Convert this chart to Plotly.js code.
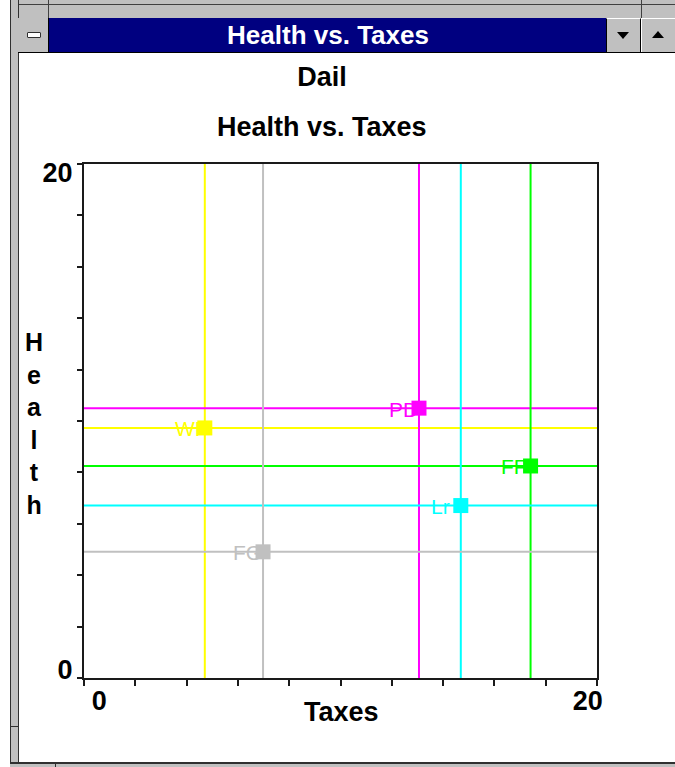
<!DOCTYPE html>
<html><head><meta charset="utf-8">
<script src="https://cdn.plot.ly/plotly-3.0.1.min.js"></script>
<style>
html,body{margin:0;padding:0;background:#fff;width:675px;height:767px;overflow:hidden;}
.abs{position:absolute;box-sizing:border-box;}
#plot{position:absolute;left:0;top:0;width:675px;height:767px;}
.tri-down{position:absolute;width:0;height:0;border-left:6px solid transparent;border-right:6px solid transparent;border-top:7px solid #000;}
.tri-up{position:absolute;width:0;height:0;border-left:6px solid transparent;border-right:6px solid transparent;border-bottom:7px solid #000;}
</style></head><body>
<!-- window chrome -->
<div class="abs" style="left:10px;top:0;width:665px;height:19px;background:#c0c0c0;border-bottom:1px solid #000;"></div>
<div class="abs" style="left:10px;top:4px;width:665px;height:1px;background:#404040;"></div>
<div class="abs" style="left:48px;top:0;width:1px;height:19px;background:#404040;"></div>
<div class="abs" style="left:641px;top:0;width:1px;height:19px;background:#404040;"></div>
<div class="abs" style="left:10px;top:0;width:9px;height:767px;background:#c0c0c0;border-left:1px solid #303030;border-right:1px solid #303030;"></div>
<div class="abs" style="left:10px;top:726px;width:9px;height:1px;background:#303030;"></div>
<div class="abs" style="left:18px;top:18px;width:31px;height:34px;background:#c0c0c0;border-right:1px solid #000;"></div>
<div class="abs" style="left:27px;top:32px;width:14px;height:6px;background:#fff;border:1px solid #303030;border-radius:1px;"></div>
<div class="abs" style="left:49px;top:18px;width:558px;height:34px;background:#000080;color:#fff;text-align:center;font:bold 26px 'Liberation Sans',Arial,sans-serif;line-height:34px;">Health vs. Taxes</div>
<div class="abs" style="left:606px;top:18px;width:35px;height:34px;background:#c0c0c0;border-left:1px solid #000;border-right:1px solid #000;border-top:1px solid #fff;"></div>
<div class="tri-down" style="left:617px;top:32px;"></div>
<div class="abs" style="left:641px;top:18px;width:34px;height:34px;background:#c0c0c0;border-top:1px solid #fff;border-left:1px solid #fff;"></div>
<div class="tri-up" style="left:652px;top:31px;"></div>
<div class="abs" style="left:18px;top:52px;width:657px;height:1px;background:#000;"></div>
<div class="abs" style="left:10px;top:762px;width:665px;height:5px;background:#c0c0c0;border-top:2px solid #303030;"></div>
<div class="abs" style="left:55px;top:762px;width:1px;height:5px;background:#303030;"></div>
<div id="plot"></div>
<script>
// ---- data ----
const parties = ["WP", "PD", "FF", "Lr", "FG"];
const taxes   = [4.71, 13.06, 17.41, 14.69, 6.98];
const health  = [9.73, 10.50, 8.25, 6.71, 4.91];
const partyColors = ["#ffff00", "#ff00ff", "#00ff00", "#00ffff", "#c0c0c0"];
const xTickVals = [0.6, 19.64];
const xTickText = ["0", "20"];
const yTickVals = [0.33, 19.65];
const yTickText = ["0", "20"];
const minorTickVals = [0, 2, 4, 6, 8, 10, 12, 14, 16, 18, 20];

const FONT = "'Liberation Sans', Arial, sans-serif";

const shapes = [];
parties.forEach((p, i) => {
  shapes.push({type: 'line', xref: 'x', yref: 'y', x0: taxes[i], x1: taxes[i], y0: 0, y1: 20,
               line: {color: partyColors[i], width: 2}, layer: 'below'});
  shapes.push({type: 'line', xref: 'x', yref: 'y', x0: 0, x1: 20, y0: health[i], y1: health[i],
               line: {color: partyColors[i], width: 2}, layer: 'below'});
});

const annotations = parties.map((p, i) => ({
  x: taxes[i], y: health[i], xref: 'x', yref: 'y', text: p, showarrow: false,
  xanchor: 'left', yanchor: 'middle', xshift: -32, yshift: -1,
  font: {family: FONT, size: 21, color: partyColors[i]}
}));
annotations.push({
  text: 'Health vs. Taxes', xref: 'paper', yref: 'paper', x: (322 - 84) / 513, y: (678 - 127) / 514,
  xanchor: 'center', yanchor: 'middle', showarrow: false,
  font: {family: FONT, size: 27, color: '#000', weight: 'bold'}
});
annotations.push({
  text: 'Taxes', xref: 'paper', yref: 'paper', x: (341 - 84) / 513, y: (678 - 712) / 514,
  xanchor: 'center', yanchor: 'middle', showarrow: false,
  font: {family: FONT, size: 27, color: '#000', weight: 'bold'}
});
annotations.push({
  text: 'H<br>e<br>a<br>l<br>t<br>h', xref: 'paper', yref: 'paper', x: (34 - 84) / 513, y: (678 - 423) / 514,
  xanchor: 'center', yanchor: 'middle', showarrow: false, align: 'center',
  font: {family: FONT, size: 25, color: '#000', weight: 'bold'}
});

const markerTrace = {
  type: 'scatter', mode: 'markers', x: taxes, y: health, text: parties,
  marker: {symbol: 'square', size: 15, color: partyColors, line: {width: 0}},
  hoverinfo: 'skip', cliponaxis: false
};

const axisCommon = {
  range: [0, 20], showgrid: false, zeroline: false, showline: true, mirror: true,
  linecolor: '#1a1a1a', linewidth: 2, tickmode: 'array', ticks: 'outside', ticklen: 0,
  tickfont: {family: FONT, size: 27, color: '#000', weight: 'bold'}, fixedrange: true
};

const layout = {
  width: 675, height: 767,
  margin: {l: 84, r: 78, t: 164, b: 89, pad: 0},
  paper_bgcolor: 'rgba(0,0,0,0)', plot_bgcolor: '#fff',
  showlegend: false,
  title: {text: 'Dail', xref: 'container', x: 322 / 675, xanchor: 'center',
          yref: 'container', y: 1 - 77 / 767, yanchor: 'middle',
          font: {family: FONT, size: 27, color: '#000', weight: 'bold'}},
  xaxis: Object.assign({}, axisCommon, {
    tickvals: xTickVals, ticktext: xTickText, ticklabelstandoff: -2,
    minor: {tickmode: 'array', tickvals: minorTickVals, ticks: 'outside', ticklen: 6,
            tickwidth: 2, tickcolor: '#1a1a1a', showgrid: false}
  }),
  yaxis: Object.assign({}, axisCommon, {
    tickvals: yTickVals, ticktext: yTickText, ticklabelstandoff: 4,
    minor: {tickmode: 'array', tickvals: minorTickVals, ticks: 'outside', ticklen: 5,
            tickwidth: 2, tickcolor: '#1a1a1a', showgrid: false}
  }),
  shapes: shapes,
  annotations: annotations
};

Plotly.newPlot('plot', [markerTrace], layout, {displayModeBar: false, staticPlot: true});
</script>
</body></html>
